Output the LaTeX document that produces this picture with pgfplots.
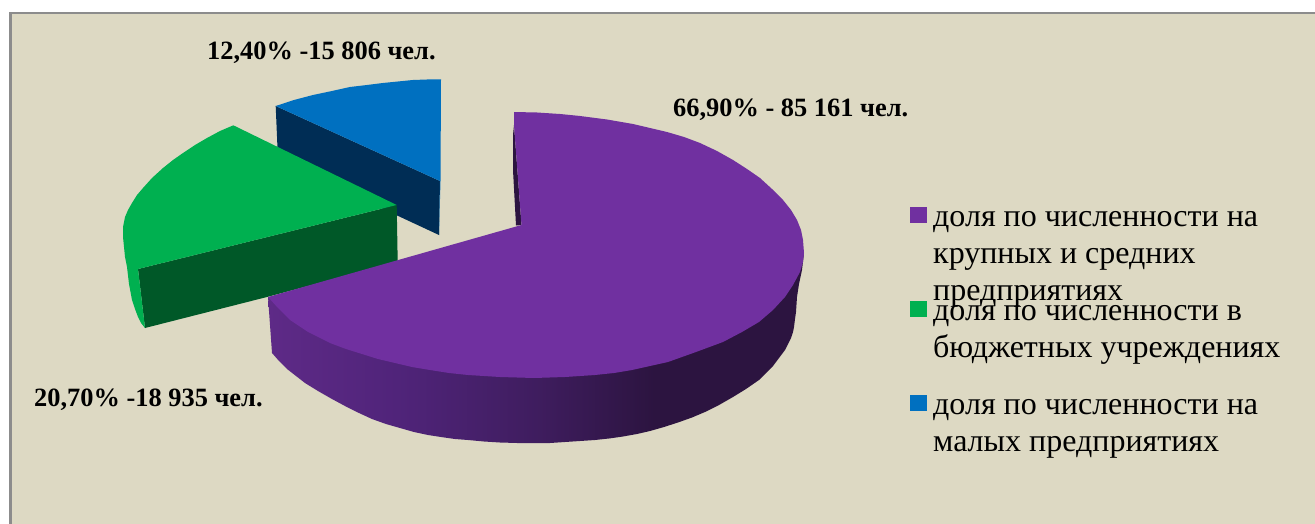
\documentclass[border=0pt]{standalone}
\usepackage{fontspec}
\setmainfont{Liberation Serif}
\usepackage{pgfplots}
\pgfplotsset{compat=1.18}
\definecolor{bg}{HTML}{DDD9C3}
\definecolor{frame}{HTML}{8C8C8C}
\definecolor{purp}{HTML}{7030A0}
\definecolor{purpD}{HTML}{2C1440}
\definecolor{purpL}{HTML}{5E2A87}
\definecolor{purpA}{HTML}{50247A}
\definecolor{purpM}{HTML}{3F1D5F}
\definecolor{grn}{HTML}{00B050}
\definecolor{grnD}{HTML}{005828}
\definecolor{blu}{HTML}{0070C0}
\definecolor{bluD}{HTML}{002D55}
\pgfdeclarehorizontalshading{wall}{100bp}{color(0bp)=(purpL); color(25bp)=(purpL); color(37bp)=(purpA); color(50bp)=(purpM); color(61bp)=(purpD); color(100bp)=(purpD)}
\newcommand{\lfont}{\fontsize{32}{32}\selectfont}
\newcommand{\bfont}{\fontsize{26.4}{26.4}\selectfont\bfseries}
\begin{document}
\begin{tikzpicture}
\begin{axis}[
  scale only axis, width=1315pt, height=524pt,
  xmin=0, xmax=1315, ymin=0, ymax=524, y dir=reverse,
  hide axis, clip=true,
  every axis plot/.append style={draw=none, mark=none, line width=0pt},
]
% page and frame
\addplot[fill=white] coordinates {(0,0) (1315,0) (1315,524) (0,524)} -- cycle;
\addplot[fill=frame] coordinates {(9,12) (1315,12) (1315,524) (9,524)} -- cycle;
\addplot[fill=bg] coordinates {(12,14.5) (1315,14.5) (1315,524) (12,524)} -- cycle;
% blue slice
\addplot[fill=bluD] coordinates {(275.7,106) (440,181) (439,235) (278,160)} -- cycle;
\addplot[fill=blu] coordinates {(275.7,106) (294,100) (313,95) (332,91) (350,87) (367,85) (383,83) (398,81.5) (413,80) (427,79.5) (441,79.5) (440.5,181) (439,235) (440,181)} -- cycle;
% green slice
\addplot[fill=grnD] coordinates {(138,269) (396.7,205) (397.7,262) (267,297) (145,328)} -- cycle;
\addplot[fill=grn] coordinates {(233.3,125.3) (220,131) (207,138) (195,145) (183,153) (173,160) (163,168) (152,178) (143,188) (137,195) (132,203) (128,210) (125,217) (124,222) (123,227) (123,237) (124,247) (125,257) (127,267) (129,284) (132,300) (135,309) (138,317) (141,323) (145,328) (138,269) (396.7,205)} -- cycle;
% purple slice
\addplot[shading=wall] coordinates {(268,297) (270,325) (272,353) (279,361) (287,369) (296,376) (305,383) (318,391) (332,399) (345,406) (359,413) (372,419) (386,424) (400,428) (414,432) (428,435) (441,437) (455,439) (468,440) (484,441.5) (500,442.5) (517,443) (534,443) (550,443) (565,442) (580,441) (595,440) (609,438.5) (623,436.5) (637,434) (650,431) (664,427) (678,422.5) (692,417.5) (705,412) (719,405) (733,397) (746,389) (759,380) (766,373) (773,366) (779,358) (785,350) (788,344) (791,338) (793,332) (794,327) (795,319) (796,312) (797,297) (799,284) (802,270) (804,253) (534,300)} -- cycle;
\addplot[fill=purpD] coordinates {(514,125) (513,135) (513,170) (516,225.5) (521.5,225)} -- cycle;
\addplot[fill=purp] coordinates {(514,112) (537,112.5) (560,114) (580,116) (607,119.5) (633,124) (650,128) (667,132) (684,137) (700,143) (717,151) (733,160) (747,169) (760,178) (772,189) (783,200) (791,210) (797,220) (801,230) (803,240) (804,253) (803,262) (800,272) (793,285) (785,297) (773,310) (759,322) (742,332) (723,342) (696,352) (668,362) (650,366) (632,370) (614,373) (595,375) (565,377) (534,378) (500,377) (468,375) (449,373) (430,370) (412,367) (395,363) (378,359) (362,354) (346,349) (330,343) (308,332) (290,320) (278,308) (268,297) (521.5,225) (514,125)} -- cycle;
% legend keys
\addplot[fill=purp] coordinates {(910,207) (927,207) (927,223) (910,223)} -- cycle;
\addplot[fill=grn] coordinates {(910,301) (927,301) (927,317) (910,317)} -- cycle;
\addplot[fill=blu] coordinates {(910,395) (927,395) (927,411) (910,411)} -- cycle;
% labels
\node[anchor=base west, inner sep=0pt] at (axis cs:207,60) {\bfont 12,40\% -15 806 чел.};
\node[anchor=base west, inner sep=0pt] at (axis cs:673,117) {\bfont 66,90\% - 85 161 чел.};
\node[anchor=base west, inner sep=0pt] at (axis cs:34,406) {\bfont 20,70\% -18 935 чел.};
% legend text
\node[anchor=base west, inner sep=0pt] at (axis cs:933,226) {\lfont доля по численности на};
\node[anchor=base west, inner sep=0pt] at (axis cs:933,263) {\lfont крупных и средних};
\node[anchor=base west, inner sep=0pt] at (axis cs:933,300) {\lfont предприятиях};
\node[anchor=base west, inner sep=0pt] at (axis cs:933,320) {\lfont доля по численности в};
\node[anchor=base west, inner sep=0pt] at (axis cs:933,357) {\lfont бюджетных учреждениях};
\node[anchor=base west, inner sep=0pt] at (axis cs:933,414) {\lfont доля по численности на};
\node[anchor=base west, inner sep=0pt] at (axis cs:933,451) {\lfont малых предприятиях};
\end{axis}
\end{tikzpicture}
\end{document}
